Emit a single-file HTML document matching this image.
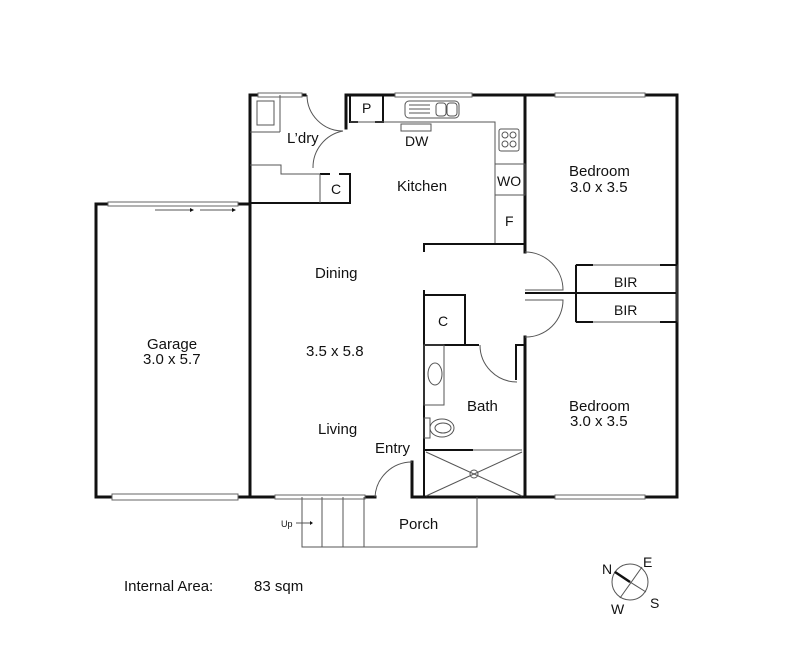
<!DOCTYPE html>
<html><head><meta charset="utf-8"><style>
body{margin:0;background:#fff}
svg{display:block}
text{font-family:"Liberation Sans",sans-serif;font-size:15px;fill:#111}
.s{font-size:14px}
.w{stroke:#111;stroke-width:3;fill:none;stroke-linecap:square}
.m{stroke:#111;stroke-width:2;fill:none}
.t{stroke:#555;stroke-width:1;fill:none}
.win{stroke:#666;stroke-width:1;fill:#fff}
</style></head><body>
<svg width="798" height="650" viewBox="0 0 798 650">
<!-- Garage -->
<polyline class="w" points="250,204 96,204 96,497 250,497"/>
<rect class="win" x="108" y="202" width="130" height="4"/>
<rect class="win" x="112" y="494" width="126" height="6"/>
<line class="t" x1="155" y1="210" x2="190" y2="210"/><polygon points="190,208 194,210 190,212" fill="#111"/>
<line class="t" x1="200" y1="210" x2="232" y2="210"/><polygon points="232,208 236,210 232,212" fill="#111"/>
<!-- main outer -->
<polyline class="w" points="305,95 250,95 250,497 375,497"/>
<rect class="win" x="258" y="93" width="44" height="4"/>
<polyline class="w" points="346,128 346,95 677,95 677,497 412,497 412,462"/>
<rect class="win" x="395" y="93" width="77" height="4"/>
<rect class="win" x="555" y="93" width="90" height="4"/>
<rect class="win" x="555" y="495" width="90" height="4"/>
<rect class="win" x="275" y="495" width="90" height="4"/>
<line class="w" x1="525" y1="95" x2="525" y2="252"/>
<line class="w" x1="525" y1="337" x2="525" y2="497"/>
<!-- laundry -->
<path class="t" d="M307,95 A36,36 0 0 0 343,131"/>
<path class="t" d="M343,131 A37,37 0 0 0 313,168"/>
<polyline class="m" points="250,203 350,203 350,174 339,174"/>
<line class="m" x1="320" y1="174" x2="330" y2="174"/>
<line class="t" x1="320" y1="174" x2="320" y2="203"/>
<polyline class="t" points="250,165 281,165 281,174 320,174"/>
<rect class="t" x="257" y="101" width="17" height="24"/>
<line class="t" x1="250" y1="132" x2="280" y2="132"/><line class="t" x1="280" y1="95" x2="280" y2="132"/>
<!-- pantry -->
<polyline class="m" points="350,95 350,122 358,122"/>
<line class="m" x1="375" y1="122" x2="384" y2="122"/>
<line class="m" x1="383" y1="95" x2="383" y2="122"/>
<line class="t" x1="350" y1="122" x2="383" y2="122"/>
<!-- kitchen counter -->
<polyline class="t" points="383,122 495,122 495,243"/>
<rect class="t" x="405" y="101" width="54" height="17" rx="4"/>
<rect class="t" x="436" y="103" width="10" height="13" rx="3"/><rect class="t" x="447" y="103" width="10" height="13" rx="3"/>
<line class="t" x1="409" y1="105" x2="430" y2="105"/><line class="t" x1="409" y1="109" x2="430" y2="109"/><line class="t" x1="409" y1="113" x2="430" y2="113"/>
<rect class="t" x="401" y="124" width="30" height="7"/>
<rect class="t" x="499" y="129" width="20" height="22" rx="2"/>
<circle class="t" cx="505" cy="135" r="3"/><circle class="t" cx="513" cy="135" r="3"/><circle class="t" cx="505" cy="144" r="3"/><circle class="t" cx="513" cy="144" r="3"/>
<rect class="t" x="495" y="164" width="30" height="31"/>
<line class="t" x1="495" y1="195" x2="525" y2="195"/>
<!-- hall -->
<polyline class="m" points="424,252 424,244 525,244"/>
<path class="t" d="M525,252 A38,38 0 0 1 563,290 L525,290"/>
<path class="t" d="M525,300 L563,300 A37,37 0 0 1 525,337"/>
<line class="m" x1="525" y1="293" x2="677" y2="293"/>
<rect class="t" x="576" y="265" width="101" height="57"/>
<line class="m" x1="576" y1="265" x2="576" y2="322"/>
<line class="m" x1="576" y1="265" x2="593" y2="265"/><line class="m" x1="660" y1="265" x2="677" y2="265"/>
<line class="m" x1="576" y1="322" x2="593" y2="322"/><line class="m" x1="660" y1="322" x2="677" y2="322"/>
<!-- closet & bath -->
<line class="m" x1="424" y1="290" x2="424" y2="497"/>
<polyline class="m" points="424,295 465,295 465,345 479,345"/>
<line class="m" x1="424" y1="345" x2="465" y2="345"/>
<polyline class="m" points="516,380 516,345 525,345"/>
<path class="t" d="M480,345 A37,37 0 0 0 517,382"/>
<rect class="t" x="424" y="345" width="20" height="60"/>
<ellipse class="t" cx="435" cy="374" rx="7" ry="11"/>
<rect class="t" x="424" y="418" width="6" height="20"/>
<ellipse class="t" cx="442" cy="428" rx="12" ry="9"/>
<ellipse class="t" cx="443" cy="428" rx="8" ry="5"/>
<line class="m" x1="424" y1="450" x2="473" y2="450"/>
<line class="t" x1="473" y1="450" x2="522" y2="450"/>
<line class="t" x1="426" y1="496" x2="522" y2="452"/><line class="t" x1="426" y1="452" x2="522" y2="496"/>
<circle class="t" cx="474" cy="474" r="4"/>
<!-- entry door -->
<path class="t" d="M375,497 A37,37 0 0 1 412,462"/>
<!-- porch -->
<polyline class="t" points="302,497 302,547 477,547 477,497"/>
<line class="t" x1="322" y1="497" x2="322" y2="547"/><line class="t" x1="343" y1="497" x2="343" y2="547"/><line class="t" x1="364" y1="497" x2="364" y2="547"/>
<line class="t" x1="296" y1="523" x2="310" y2="523"/><polygon points="310,521 313,523 310,525" fill="#111"/>
<!-- compass -->
<circle class="t" cx="630" cy="582" r="18"/>
<line class="t" x1="614" y1="572" x2="646" y2="592"/>
<line class="t" x1="642" y1="567" x2="620" y2="598"/>
<line x1="615" y1="572" x2="630" y2="582" stroke="#111" stroke-width="2.5"/>
<!-- labels -->
<text x="287" y="143">L’dry</text>
<text class="s" x="405" y="146">DW</text>
<text class="s" x="362" y="113">P</text>
<text class="s" x="331" y="194">C</text>
<text x="397" y="191">Kitchen</text>
<text class="s" x="497" y="186">WO</text>
<text class="s" x="505" y="226">F</text>
<text x="569" y="176">Bedroom</text><text x="570" y="192">3.0 x 3.5</text>
<text class="s" x="614" y="287">BIR</text><text class="s" x="614" y="315">BIR</text>
<text x="315" y="278">Dining</text>
<text x="306" y="356">3.5 x 5.8</text>
<text x="318" y="434">Living</text>
<text x="375" y="453">Entry</text>
<text x="147" y="349">Garage</text><text x="143" y="364">3.0 x 5.7</text>
<text class="s" x="438" y="326">C</text>
<text x="467" y="411">Bath</text>
<text x="569" y="411">Bedroom</text><text x="570" y="426">3.0 x 3.5</text>
<text x="399" y="529">Porch</text>
<text x="281" y="527" style="font-size:9px">Up</text>
<text x="124" y="591">Internal Area:</text>
<text x="254" y="591">83 sqm</text>
<text class="s" x="602" y="574">N</text>
<text class="s" x="643" y="567">E</text>
<text class="s" x="650" y="608">S</text>
<text class="s" x="611" y="614">W</text>
</svg>
</body></html>
